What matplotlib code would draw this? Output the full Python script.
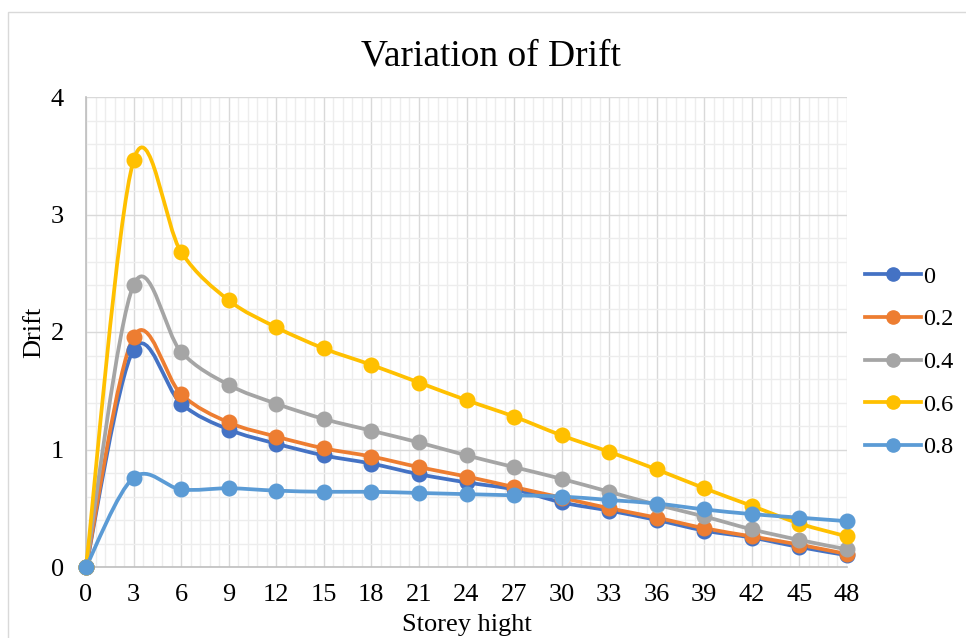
"""Drift vs storey height for five parameter values, Excel-style smoothed lines."""

import matplotlib

matplotlib.use("Agg")
import matplotlib.pyplot as plt  # noqa: E402
import numpy as np  # noqa: E402
from matplotlib.lines import Line2D  # noqa: E402
from matplotlib.patches import PathPatch, Rectangle  # noqa: E402
from matplotlib.path import Path  # noqa: E402
from matplotlib.ticker import MultipleLocator  # noqa: E402

storey = [0, 3, 6, 9, 12, 15, 18, 21, 24, 27, 30, 33, 36, 39, 42, 45, 48]
drift_0 = [0, 1.85, 1.39, 1.17, 1.05, 0.95, 0.88, 0.79, 0.72, 0.66, 0.55, 0.48, 0.40, 0.31, 0.25, 0.17, 0.10]
drift_02 = [0, 1.96, 1.47, 1.23, 1.11, 1.01, 0.94, 0.85, 0.77, 0.68, 0.59, 0.50, 0.42, 0.33, 0.26, 0.19, 0.11]
drift_04 = [0, 2.40, 1.83, 1.55, 1.39, 1.26, 1.16, 1.06, 0.95, 0.85, 0.75, 0.64, 0.53, 0.43, 0.32, 0.23, 0.15]
drift_06 = [0, 3.46, 2.68, 2.27, 2.04, 1.86, 1.72, 1.57, 1.42, 1.28, 1.12, 0.98, 0.83, 0.67, 0.52, 0.37, 0.26]
drift_08 = [0, 0.76, 0.66, 0.67, 0.65, 0.64, 0.64, 0.63, 0.62, 0.61, 0.60, 0.57, 0.54, 0.49, 0.45, 0.42, 0.39]

labels = ["0", "0.2", "0.4", "0.6", "0.8"]
colours = ["#4472C4", "#ED7D31", "#A5A5A5", "#FFC000", "#5B9BD5"]

plt.rcParams["font.family"] = ["Liberation Serif", "DejaVu Serif"]


def smooth_path(x, y) -> Path:
    # Excel "smoothed line": cubic Bezier through every point, Catmull-Rom handles
    pts = np.column_stack([x, y]).astype(float)
    padded = np.vstack([pts[:1], pts, pts[-1:]])
    verts = [pts[0]]
    codes = [Path.MOVETO]
    for i in range(len(pts) - 1):
        p_prev, p0, p1, p_next = padded[i], padded[i + 1], padded[i + 2], padded[i + 3]
        verts += [p0 + (p1 - p_prev) / 6, p1 - (p_next - p0) / 6, p1]
        codes += [Path.CURVE4] * 3
    return Path(verts, codes)


fig = plt.figure(figsize=(9.66, 6.38), dpi=100)
ax = fig.add_axes([86 / 966, 71 / 638, 761 / 966, 470 / 638])

fig.patches.append(
    Rectangle((8 / 966, -0.05), 1.1, 1 - 12 / 638 + 0.05, transform=fig.transFigure,
              fill=False, edgecolor="#D9D9D9", lw=1.0)
)

for series, label, colour in zip([drift_0, drift_02, drift_04, drift_06, drift_08], labels, colours):
    ax.add_patch(PathPatch(smooth_path(storey, series), fill=False, edgecolor=colour,
                           lw=2.7, clip_on=False, zorder=3, capstyle="round"))
    ax.plot(storey, series, ls="none", marker="o", ms=10.5, color=colour,
            clip_on=False, zorder=4)

ax.set_xlim(0, 48)
ax.set_ylim(0, 4)
ax.xaxis.set_major_locator(MultipleLocator(3))
ax.xaxis.set_minor_locator(MultipleLocator(0.6))
ax.yaxis.set_major_locator(MultipleLocator(1))
ax.yaxis.set_minor_locator(MultipleLocator(0.2))
ax.grid(which="major", color="#D9D9D9", lw=1.0)
ax.grid(which="minor", color="#EDEDED", lw=1.0)
ax.set_axisbelow(True)
for side in ["top", "right"]:
    ax.spines[side].set_visible(False)
for side in ["left", "bottom"]:
    ax.spines[side].set_color("#BFBFBF")
    ax.spines[side].set_linewidth(1.2)
ax.tick_params(which="both", length=0)
ax.tick_params(axis="x", labelsize=19, pad=12)
ax.tick_params(axis="y", labelsize=19, pad=16)

ax.set_xlabel("Storey hight", fontsize=19, labelpad=6)
ax.set_ylabel("Drift", fontsize=19, labelpad=4)
fig.text(491 / 966, 1 - 56 / 638, "Variation of Drift", fontsize=27,
         ha="center", va="center")

handles = [
    Line2D([], [], color=c, lw=2.7, marker="o", ms=9.5) for c in colours
]
fig.legend(handles, labels, loc="center left", bbox_to_anchor=(855 / 966, 1 - 362 / 638),
           frameon=False, fontsize=17.5, handlelength=2.3, handletextpad=0.1,
           labelspacing=0.85, borderaxespad=0)

fig.savefig("out.png", dpi=100)
plt.close(fig)
